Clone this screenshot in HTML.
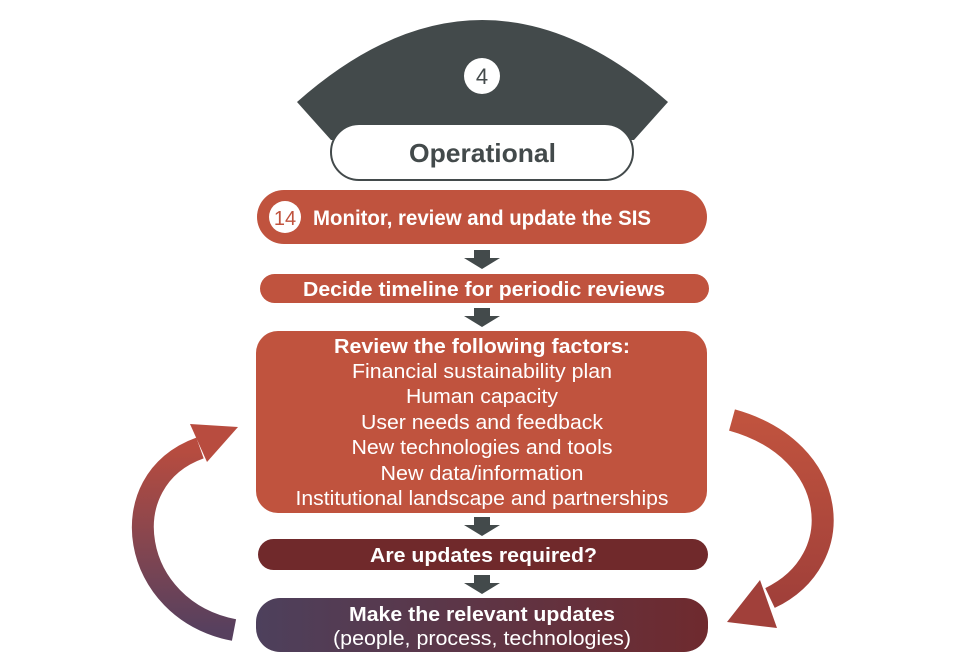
<!DOCTYPE html>
<html><head><meta charset="utf-8"><style>
html,body{margin:0;padding:0;background:#fff;}
svg{display:block;}
text{font-family:"Liberation Sans",Arial,sans-serif;}
</style></head><body>
<svg width="960" height="664" viewBox="0 0 960 664" xmlns="http://www.w3.org/2000/svg">
<defs>
<linearGradient id="lg" x1="0" y1="1" x2="0" y2="0">
<stop offset="0" stop-color="#57405e"/><stop offset="1" stop-color="#b84c3f"/>
</linearGradient>
<linearGradient id="rg" x1="0" y1="0" x2="0" y2="1">
<stop offset="0" stop-color="#c0533e"/><stop offset="1" stop-color="#a1403a"/>
</linearGradient>
<linearGradient id="bg5" x1="0" y1="0" x2="1" y2="0">
<stop offset="0" stop-color="#4d405c"/><stop offset="1" stop-color="#6f2a2e"/>
</linearGradient>
</defs>
<path d="M297,102 Q482,-62 668,102 L634,140 L331,140 Z" fill="#434a4b"/>
<circle cx="482" cy="76" r="18" fill="#fff"/>
<text x="482" y="84" text-anchor="middle" font-size="22" fill="#434a4b">4</text>
<rect x="331" y="124" width="302" height="56" rx="28" fill="#fff" stroke="#434a4b" stroke-width="2"/>
<text x="409" y="162" font-size="26" font-weight="bold" fill="#434a4b" textLength="147" lengthAdjust="spacingAndGlyphs">Operational</text>
<rect x="257" y="190" width="450" height="54" rx="27" fill="#c0533e"/>
<circle cx="285" cy="217" r="16" fill="#fff"/>
<text x="285" y="225" text-anchor="middle" font-size="20" fill="#c0533e">14</text>
<text x="313" y="225" font-size="21" font-weight="bold" fill="#fff" textLength="338" lengthAdjust="spacingAndGlyphs">Monitor, review and update the SIS</text>
<g fill="#434a4b">
<path d="M474,250 h16 v8 h10 l-18,11 l-18,-11 h10 z"/>
<path d="M474,308 h16 v8 h10 l-18,11 l-18,-11 h10 z"/>
<path d="M474,517 h16 v8 h10 l-18,11 l-18,-11 h10 z"/>
<path d="M474,575 h16 v8 h10 l-18,11 l-18,-11 h10 z"/>
</g>
<rect x="260" y="274" width="449" height="29" rx="14.5" fill="#c0533e"/>
<text x="303" y="296" font-size="20" font-weight="bold" fill="#fff" textLength="362" lengthAdjust="spacingAndGlyphs">Decide timeline for periodic reviews</text>
<rect x="256" y="331" width="451" height="182" rx="22" fill="#c0533e"/>
<g fill="#fff" font-size="20" text-anchor="middle" lengthAdjust="spacingAndGlyphs">
<text x="482" y="353" font-weight="bold" textLength="296" lengthAdjust="spacingAndGlyphs">Review the following factors:</text>
<text x="482" y="378" textLength="260" lengthAdjust="spacingAndGlyphs">Financial sustainability plan</text>
<text x="482" y="403" textLength="152" lengthAdjust="spacingAndGlyphs">Human capacity</text>
<text x="482" y="429" textLength="242" lengthAdjust="spacingAndGlyphs">User needs and feedback</text>
<text x="482" y="454" textLength="261" lengthAdjust="spacingAndGlyphs">New technologies and tools</text>
<text x="482" y="480" textLength="203" lengthAdjust="spacingAndGlyphs">New data/information</text>
<text x="482" y="505" textLength="373" lengthAdjust="spacingAndGlyphs">Institutional landscape and partnerships</text>
</g>
<rect x="258" y="539" width="450" height="31" rx="15.5" fill="#70292b"/>
<text x="370" y="562" font-size="20" font-weight="bold" fill="#fff" textLength="227" lengthAdjust="spacingAndGlyphs">Are updates required?</text>
<rect x="256" y="598" width="452" height="54" rx="24" fill="url(#bg5)"/>
<text x="349" y="621" font-size="20" font-weight="bold" fill="#fff" textLength="266" lengthAdjust="spacingAndGlyphs">Make the relevant updates</text>
<text x="333" y="645" font-size="20" fill="#fff" textLength="298" lengthAdjust="spacingAndGlyphs">(people, process, technologies)</text>
<path d="M234,630 C130,610 110,480 200,448" fill="none" stroke="url(#lg)" stroke-width="22"/>
<path d="M190,424 L238,427 L207,462 Z" fill="#b84c3f"/>
<path d="M732,420 C840,450 850,560 770,598" fill="none" stroke="url(#rg)" stroke-width="22"/>
<path d="M760,580 L727,622 L777,628 Z" fill="#a1403a"/>
</svg>
</body></html>
